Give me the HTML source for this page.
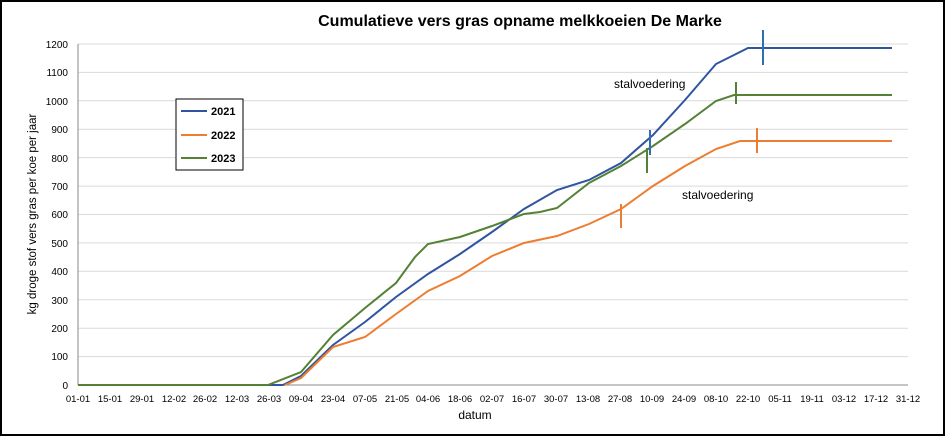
<!DOCTYPE html><html><head><style>body{margin:0;background:#fff}svg{display:block;font-family:"Liberation Sans",sans-serif}</style></head><body>
<svg width="945" height="436" viewBox="0 0 945 436">
<rect x="1" y="1" width="943" height="434" fill="#fff" stroke="#000" stroke-width="2"/>
<text x="520" y="26" text-anchor="middle" font-size="16" font-weight="bold">Cumulatieve vers gras opname melkkoeien De Marke</text>
<g stroke="#d9d9d9" stroke-width="1">
<line x1="78" x2="908" y1="356.6" y2="356.6"/><line x1="78" x2="908" y1="328.2" y2="328.2"/><line x1="78" x2="908" y1="299.7" y2="299.7"/><line x1="78" x2="908" y1="271.3" y2="271.3"/><line x1="78" x2="908" y1="242.9" y2="242.9"/><line x1="78" x2="908" y1="214.5" y2="214.5"/><line x1="78" x2="908" y1="186.1" y2="186.1"/><line x1="78" x2="908" y1="157.6" y2="157.6"/><line x1="78" x2="908" y1="129.2" y2="129.2"/><line x1="78" x2="908" y1="100.8" y2="100.8"/><line x1="78" x2="908" y1="72.4" y2="72.4"/><line x1="78" x2="908" y1="44" y2="44"/>
</g>
<line x1="78" x2="78" y1="44" y2="385" stroke="#888"/>
<line x1="78" x2="908" y1="385" y2="385" stroke="#888"/>
<g font-size="10" text-anchor="end" fill="#000">
<text x="68" y="389">0</text><text x="68" y="360">100</text><text x="68" y="332">200</text><text x="68" y="304">300</text><text x="68" y="275">400</text><text x="68" y="247">500</text><text x="68" y="218">600</text><text x="68" y="190">700</text><text x="68" y="162">800</text><text x="68" y="133">900</text><text x="68" y="105">1000</text><text x="68" y="76">1100</text><text x="68" y="48">1200</text>
</g>
<g font-size="9.5" text-anchor="middle">
<text x="78" y="402">01-01</text><text x="110" y="402">15-01</text><text x="142" y="402">29-01</text><text x="174" y="402">12-02</text><text x="205" y="402">26-02</text><text x="237" y="402">12-03</text><text x="269" y="402">26-03</text><text x="301" y="402">09-04</text><text x="333" y="402">23-04</text><text x="365" y="402">07-05</text><text x="397" y="402">21-05</text><text x="428" y="402">04-06</text><text x="460" y="402">18-06</text><text x="492" y="402">02-07</text><text x="524" y="402">16-07</text><text x="556" y="402">30-07</text><text x="588" y="402">13-08</text><text x="620" y="402">27-08</text><text x="652" y="402">10-09</text><text x="684" y="402">24-09</text><text x="716" y="402">08-10</text><text x="748" y="402">22-10</text><text x="780" y="402">05-11</text><text x="812" y="402">19-11</text><text x="844" y="402">03-12</text><text x="876" y="402">17-12</text><text x="908" y="402">31-12</text>
</g>
<text x="475" y="419" text-anchor="middle" font-size="12">datum</text>
<text transform="translate(36,214) rotate(-90)" text-anchor="middle" font-size="11.5">kg droge stof vers gras per koe per jaar</text>
<g fill="none" stroke-width="2">
<polyline stroke="#2f55a0" points="78,385 283,385 301,376 333,345 365,322 396,297 428,274 460,254 492,232 524,209 557,190 589,180 621,163 653,135 685,100 716,64 748,48 892,48"/>
<polyline stroke="#ed7d31" points="285,385 301,378 333,347 365,337 396,314 428,291 460,276 492,256 524,243 557,236 589,224 621,209 653,186 685,166 716,149 740,141 760,141 892,141"/>
<polyline stroke="#548235" points="78,385 268,385 301,372 333,335 365,308 396,283 415,257 428,244 460,237 492,226 524,214 540,212 557,208 589,183 621,166 653,146 685,124 716,101 734,95 892,95"/>
</g>
<g stroke-width="2">
<line x1="763" x2="763" y1="30" y2="65" stroke="#2f6db5"/>
<line x1="650" x2="650" y1="130" y2="155" stroke="#2f6db5"/>
<line x1="736" x2="736" y1="82" y2="104" stroke="#548235"/>
<line x1="647" x2="647" y1="148" y2="173" stroke="#548235"/>
<line x1="757" x2="757" y1="128" y2="153" stroke="#ed7d31"/>
<line x1="621" x2="621" y1="204" y2="228" stroke="#ed7d31"/>
</g>
<text x="614" y="88" font-size="12">stalvoedering</text>
<text x="682" y="199" font-size="12">stalvoedering</text>
<rect x="176" y="99" width="67" height="71" fill="#fff" stroke="#000"/>
<g stroke-width="2"><line x1="181" x2="207" y1="111" y2="111" stroke="#2f55a0"/><line x1="181" x2="207" y1="135" y2="135" stroke="#ed7d31"/><line x1="181" x2="207" y1="158" y2="158" stroke="#548235"/></g>
<g font-size="11" font-weight="bold"><text x="211" y="115">2021</text><text x="211" y="139">2022</text><text x="211" y="162">2023</text></g>
</svg></body></html>
